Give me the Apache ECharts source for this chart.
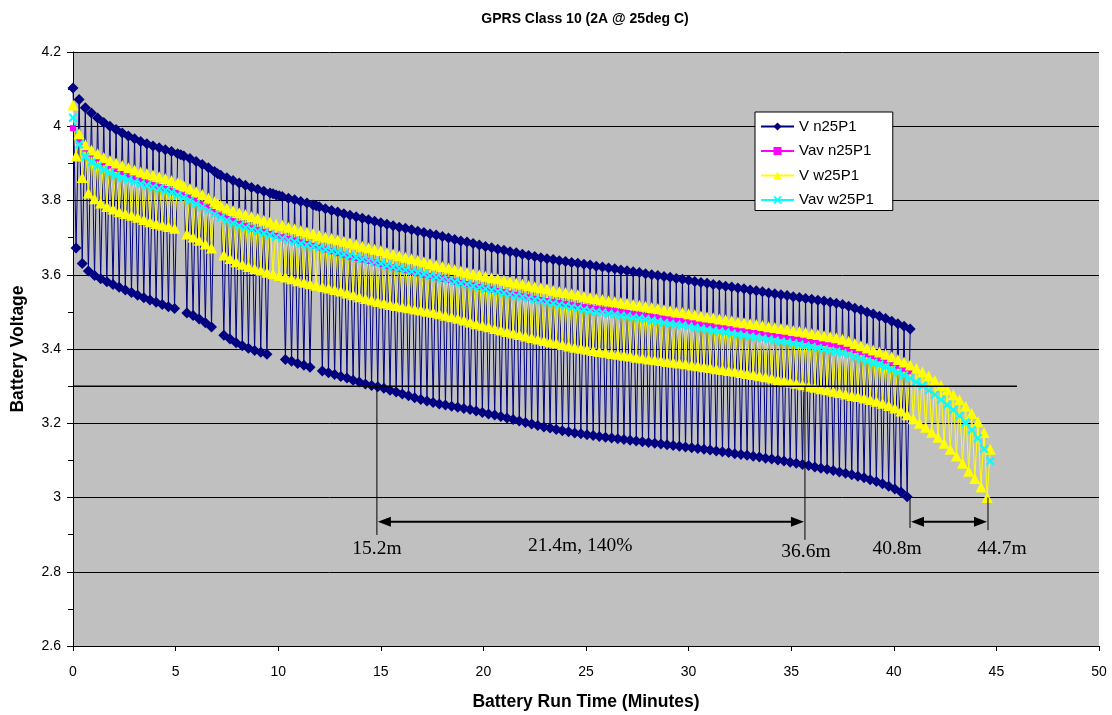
<!DOCTYPE html>
<html>
<head>
<meta charset="utf-8">
<title>GPRS Class 10 (2A @ 25deg C)</title>
<script src="https://cdn.jsdelivr.net/npm/echarts@6/dist/echarts.min.js"></script>
<style>
  html, body { margin: 0; padding: 0; background: #ffffff; }
  #chart { width: 1112px; height: 715px; }
</style>
</head>
<body>
<div id="chart"></div>
<script>
// Readings alternate idle / transmit-burst every SAMPLE_STEP minutes.
const SAMPLE_STEP = 0.15;

const seriesNames = ['V n25P1', 'Vav n25P1', 'V w25P1', 'Vav w25P1'];

// n25P1 cell: idle-level readings (even samples)
const nHigh = [
  4.103,4.072,4.050,4.036,4.022,4.010,4.000,3.991,3.982,3.974,
  3.966,3.959,3.953,3.947,3.942,3.937,3.932,3.926,3.920,3.913,
  3.905,3.897,3.888,3.878,3.868,3.861,3.854,3.847,3.841,3.835,
  3.830,3.825,3.820,3.815,3.811,3.806,3.802,3.797,3.793,3.788,
  3.783,3.778,3.773,3.769,3.764,3.760,3.756,3.752,3.748,3.744,
  3.740,3.736,3.732,3.728,3.725,3.721,3.717,3.714,3.710,3.707,
  3.703,3.699,3.695,3.691,3.688,3.684,3.680,3.676,3.673,3.669,
  3.666,3.662,3.659,3.655,3.652,3.649,3.646,3.643,3.641,3.638,
  3.636,3.633,3.631,3.628,3.626,3.623,3.621,3.618,3.616,3.613,
  3.611,3.608,3.606,3.603,3.600,3.598,3.595,3.593,3.590,3.588,
  3.585,3.582,3.579,3.577,3.574,3.572,3.569,3.567,3.564,3.562,
  3.559,3.557,3.554,3.551,3.549,3.546,3.544,3.541,3.539,3.536,
  3.534,3.531,3.529,3.526,3.523,3.520,3.515,3.510,3.505,3.499,
  3.494,3.488,3.482,3.475,3.468,3.461,3.454
];
// n25P1 cell: burst-level readings (odd samples)
const nLow = [
  3.672,3.630,3.610,3.598,3.589,3.581,3.574,3.566,3.559,3.552,
  3.545,3.538,3.532,3.526,3.520,3.514,3.509,3.923,3.497,3.490,
  3.481,3.471,3.459,3.872,3.437,3.427,3.417,3.409,3.402,3.396,
  3.391,3.386,3.818,3.813,3.372,3.367,3.361,3.356,3.351,3.786,
  3.341,3.336,3.331,3.326,3.322,3.316,3.311,3.306,3.302,3.298,
  3.294,3.289,3.284,3.279,3.274,3.269,3.264,3.260,3.256,3.252,
  3.249,3.246,3.243,3.240,3.237,3.233,3.229,3.225,3.222,3.218,
  3.214,3.210,3.206,3.202,3.198,3.194,3.190,3.187,3.183,3.180,
  3.177,3.174,3.172,3.169,3.167,3.164,3.162,3.160,3.158,3.156,
  3.154,3.152,3.150,3.148,3.146,3.144,3.142,3.140,3.138,3.136,
  3.134,3.132,3.130,3.128,3.125,3.123,3.121,3.118,3.116,3.114,
  3.111,3.109,3.106,3.104,3.101,3.098,3.095,3.092,3.089,3.086,
  3.082,3.079,3.076,3.073,3.069,3.065,3.061,3.057,3.053,3.048,
  3.043,3.037,3.030,3.023,3.015,3.002
];
// n25P1 cell: averaged voltage, one value per idle/burst pair
const nAvg = [
  3.995,3.961,3.940,3.926,3.914,3.903,3.894,3.885,3.876,3.869,
  3.861,3.854,3.848,3.842,3.837,3.831,3.826,3.820,3.814,3.807,
  3.799,3.791,3.781,3.770,3.760,3.752,3.745,3.737,3.731,3.725,
  3.720,3.715,3.710,3.705,3.701,3.696,3.692,3.687,3.683,3.678,
  3.673,3.668,3.663,3.658,3.654,3.649,3.645,3.641,3.637,3.633,
  3.629,3.624,3.620,3.616,3.612,3.608,3.604,3.600,3.597,3.593,
  3.589,3.586,3.582,3.578,3.575,3.571,3.567,3.563,3.560,3.556,
  3.553,3.549,3.546,3.542,3.539,3.535,3.532,3.529,3.527,3.524,
  3.521,3.518,3.516,3.513,3.511,3.508,3.506,3.504,3.502,3.499,
  3.497,3.494,3.492,3.489,3.487,3.485,3.482,3.480,3.477,3.475,
  3.472,3.470,3.467,3.465,3.462,3.460,3.457,3.455,3.452,3.450,
  3.447,3.445,3.442,3.439,3.437,3.434,3.432,3.429,3.427,3.424,
  3.421,3.418,3.416,3.413,3.410,3.406,3.401,3.397,3.392,3.386,
  3.381,3.375,3.369,3.362,3.355,3.347,3.340
];

// w25P1 cell: idle-level readings
const wHigh = [
  4.057,3.980,3.950,3.936,3.926,3.916,3.908,3.901,3.894,3.888,
  3.882,3.877,3.873,3.869,3.864,3.859,3.854,3.847,3.840,3.832,
  3.824,3.816,3.807,3.797,3.787,3.780,3.773,3.767,3.762,3.757,
  3.752,3.747,3.742,3.737,3.733,3.728,3.724,3.719,3.715,3.711,
  3.706,3.702,3.698,3.694,3.690,3.686,3.682,3.677,3.673,3.669,
  3.665,3.660,3.656,3.651,3.647,3.643,3.639,3.635,3.630,3.626,
  3.622,3.618,3.614,3.610,3.607,3.603,3.600,3.596,3.592,3.589,
  3.585,3.582,3.578,3.575,3.571,3.568,3.565,3.562,3.558,3.555,
  3.552,3.549,3.546,3.542,3.539,3.536,3.533,3.530,3.528,3.525,
  3.523,3.520,3.518,3.515,3.512,3.509,3.506,3.503,3.500,3.498,
  3.495,3.492,3.489,3.486,3.484,3.481,3.479,3.476,3.473,3.471,
  3.468,3.466,3.463,3.460,3.458,3.455,3.453,3.450,3.448,3.445,
  3.442,3.439,3.436,3.433,3.430,3.426,3.421,3.415,3.409,3.403,
  3.397,3.392,3.386,3.379,3.372,3.365,3.357,3.348,3.338,3.327,
  3.315,3.302,3.290,3.277,3.263,3.246,3.226,3.204,3.175,3.130
];
// w25P1 cell: burst-level readings
const wLow = [
  3.920,3.862,3.820,3.805,3.793,3.784,3.777,3.770,3.765,3.760,
  3.755,3.749,3.743,3.738,3.734,3.730,3.725,3.844,3.710,3.702,
  3.693,3.683,3.672,3.792,3.653,3.644,3.635,3.628,3.622,3.617,
  3.612,3.607,3.603,3.598,3.594,3.589,3.584,3.580,3.576,3.572,
  3.568,3.564,3.560,3.556,3.551,3.546,3.541,3.536,3.532,3.528,
  3.524,3.520,3.517,3.514,3.511,3.508,3.505,3.502,3.499,3.495,
  3.491,3.487,3.483,3.478,3.473,3.468,3.464,3.460,3.455,3.451,
  3.447,3.443,3.439,3.435,3.431,3.427,3.423,3.419,3.416,3.412,
  3.408,3.405,3.402,3.399,3.396,3.393,3.391,3.388,3.386,3.383,
  3.381,3.378,3.376,3.373,3.371,3.369,3.366,3.364,3.362,3.360,
  3.357,3.355,3.352,3.350,3.347,3.345,3.342,3.340,3.337,3.334,
  3.331,3.328,3.325,3.322,3.318,3.315,3.311,3.308,3.304,3.300,
  3.297,3.293,3.290,3.286,3.283,3.279,3.275,3.272,3.268,3.264,
  3.259,3.254,3.248,3.241,3.233,3.223,3.212,3.200,3.189,3.176,
  3.162,3.146,3.130,3.112,3.092,3.071,3.051,3.028,3.000
];
// w25P1 cell: averaged voltage
const wAvg = [
  4.023,3.951,3.918,3.903,3.893,3.883,3.875,3.868,3.862,3.856,
  3.850,3.845,3.841,3.836,3.832,3.827,3.822,3.815,3.808,3.800,
  3.791,3.783,3.773,3.763,3.754,3.746,3.739,3.732,3.727,3.722,
  3.717,3.712,3.707,3.702,3.698,3.693,3.689,3.684,3.680,3.676,
  3.672,3.668,3.664,3.660,3.655,3.651,3.647,3.642,3.638,3.634,
  3.630,3.625,3.621,3.617,3.613,3.609,3.606,3.602,3.597,3.593,
  3.589,3.585,3.581,3.577,3.574,3.569,3.566,3.562,3.558,3.555,
  3.551,3.547,3.543,3.540,3.536,3.533,3.530,3.526,3.523,3.519,
  3.516,3.513,3.510,3.506,3.503,3.500,3.498,3.495,3.493,3.490,
  3.488,3.485,3.483,3.480,3.477,3.474,3.471,3.468,3.466,3.464,
  3.461,3.458,3.455,3.452,3.450,3.447,3.445,3.442,3.439,3.437,
  3.434,3.432,3.429,3.426,3.423,3.420,3.418,3.415,3.412,3.409,
  3.406,3.403,3.400,3.396,3.393,3.389,3.385,3.379,3.374,3.368,
  3.363,3.358,3.352,3.345,3.337,3.329,3.321,3.311,3.301,3.289,
  3.277,3.263,3.250,3.236,3.220,3.202,3.182,3.160,3.131,3.098
];

// Cut-off reference and run-time annotations (minutes / volts)
const cutoff = { volts: 3.3, from: 0, to: 46.0 };
const drops = [
  { t: 14.81, top: 3.3, bottom: 2.899 },
  { t: 35.67, top: 3.3, bottom: 2.886 },
  { t: 40.79, top: 3.0, bottom: 2.918 },
  { t: 44.59, top: 3.0, bottom: 2.912 }
];
const spans = [
  { from: 14.81, to: 35.67, at: 2.935 },
  { from: 40.79, to: 44.59, at: 2.935 }
];
const notes = [
  { text: '15.2m', t: 14.81, v: 2.861 },
  { text: '21.4m, 140%', t: 24.72, v: 2.869 },
  { text: '36.6m', t: 35.72, v: 2.853 },
  { text: '40.8m', t: 40.16, v: 2.861 },
  { text: '44.7m', t: 45.27, v: 2.861 }
];

const SANS = '"Liberation Sans", Arial, sans-serif';
const SERIF = '"Liberation Serif", "Times New Roman", serif';
const CROSS = 'path://M0,1.6L1.6,0L5,3.4L8.4,0L10,1.6L6.6,5L10,8.4L8.4,10L5,6.6L1.6,10L0,8.4L3.4,5Z';

// Idle and burst readings interleaved in time order
function burstTrace(high, low) {
  const pts = [];
  for (let k = 0; k < high.length; k++) {
    pts.push([+(2 * k * SAMPLE_STEP).toFixed(2), high[k]]);
    if (k < low.length) pts.push([+((2 * k + 1) * SAMPLE_STEP).toFixed(2), low[k]]);
  }
  return pts;
}
function avgTrace(avg) {
  return avg.map((v, k) => [+(2 * k * SAMPLE_STEP).toFixed(2), v]);
}

function lineSeries(name, data, color, symbol, size) {
  return {
    name, type: 'line', data,
    symbol, symbolSize: size, showAllSymbol: true,
    lineStyle: { color, width: 1 },
    itemStyle: { color, borderWidth: 0 },
    emphasis: { disabled: true },
    animation: false
  };
}

const chart = echarts.init(document.getElementById('chart'), null, { renderer: 'canvas' });

chart.setOption({
  animation: false,
  backgroundColor: '#ffffff',
  title: {
    text: 'GPRS Class 10 (2A @ 25deg C)',
    left: 585, top: 12, textAlign: 'center', padding: 0,
    textStyle: { fontFamily: SANS, fontSize: 14, fontWeight: 'bold', color: '#000' }
  },
  legend: {
    data: seriesNames,
    orient: 'vertical',
    left: 755, top: 112,
    padding: [7, 19, 3, 5],
    itemGap: 9.5, itemWidth: 33, itemHeight: 10,
    backgroundColor: '#ffffff', borderColor: '#000', borderWidth: 1, borderRadius: 0,
    textStyle: { fontFamily: SANS, fontSize: 15, color: '#000' },
    selectedMode: false
  },
  grid: {
    left: 73, right: 13, top: 52, bottom: 69,
    outerBoundsMode: 'none', containLabel: false,
    show: true, backgroundColor: '#C0C0C0', borderWidth: 0
  },
  xAxis: {
    type: 'value', min: 0, max: 50, interval: 5,
    name: 'Battery Run Time (Minutes)', nameLocation: 'middle', nameGap: 47,
    nameTextStyle: { fontFamily: SANS, fontSize: 17.5, fontWeight: 'bold', color: '#000' },
    axisLine: { lineStyle: { color: '#000', width: 1 } },
    axisTick: { show: true, length: 5, inside: false, lineStyle: { color: '#000' } },
    axisLabel: { fontFamily: SANS, fontSize: 14, color: '#000', margin: 19 },
    splitLine: { show: false }
  },
  yAxis: {
    type: 'value', min: 2.6, max: 4.2, interval: 0.2,
    name: 'Battery Voltage', nameLocation: 'middle', nameGap: 46,
    nameTextStyle: { fontFamily: SANS, fontSize: 17.5, fontWeight: 'bold', color: '#000' },
    axisLine: { show: true, lineStyle: { color: '#000', width: 1 } },
    axisTick: { show: true, length: 6, lineStyle: { color: '#000' } },
    minorTick: { show: true, splitNumber: 2, length: 5, lineStyle: { color: '#000' } },
    axisLabel: {
      fontFamily: SANS, fontSize: 14, color: '#000', margin: 12,
      formatter: v => String(Math.round(v * 10) / 10)
    },
    splitLine: { show: true, lineStyle: { color: '#000', width: 1 } }
  },
  series: [
    lineSeries('V n25P1', burstTrace(nHigh, nLow), '#000080', 'diamond', 11),
    lineSeries('Vav n25P1', avgTrace(nAvg), '#FF00FF', 'rect', 6),
    lineSeries('V w25P1', burstTrace(wHigh, wLow), '#FFFF00', 'triangle', 11),
    lineSeries('Vav w25P1', avgTrace(wAvg), '#00FFFF', CROSS, 9)
  ]
});

// Cut-off line, run-time markers, arrows and their labels
function drawNotes() {
  const px = (t, v) => chart.convertToPixel({ gridIndex: 0 }, [t, v]);
  const els = [];
  const a = px(cutoff.from, cutoff.volts), b = px(cutoff.to, cutoff.volts);
  els.push({ type: 'line', z: 50, shape: { x1: a[0], y1: a[1], x2: b[0], y2: b[1] },
             style: { stroke: '#000', lineWidth: 1.5 } });
  drops.forEach(d => {
    const p = px(d.t, d.top), q = px(d.t, d.bottom);
    els.push({ type: 'line', z: 50, shape: { x1: p[0], y1: p[1], x2: q[0], y2: q[1] },
               style: { stroke: '#000', lineWidth: 1 } });
  });
  spans.forEach(s => {
    const p = px(s.from, s.at), q = px(s.to, s.at);
    const y = p[1], head = 13, half = 5;
    els.push({ type: 'line', z: 50, shape: { x1: p[0] + 8, y1: y, x2: q[0] - 8, y2: y },
               style: { stroke: '#000', lineWidth: 2 } });
    els.push({ type: 'polygon', z: 50, shape: { points: [[p[0] + 1, y], [p[0] + 1 + head, y - half], [p[0] + 1 + head, y + half]] },
               style: { fill: '#000' } });
    els.push({ type: 'polygon', z: 50, shape: { points: [[q[0] - 1, y], [q[0] - 1 - head, y - half], [q[0] - 1 - head, y + half]] },
               style: { fill: '#000' } });
  });
  notes.forEach(n => {
    const p = px(n.t, n.v);
    els.push({ type: 'text', z: 50, x: p[0], y: p[1],
               style: { text: n.text, font: '19.5px ' + SERIF, fill: '#000',
                        align: 'center', verticalAlign: 'middle' } });
  });
  chart.setOption({ graphic: els });
}
drawNotes();
</script>
</body>
</html>
